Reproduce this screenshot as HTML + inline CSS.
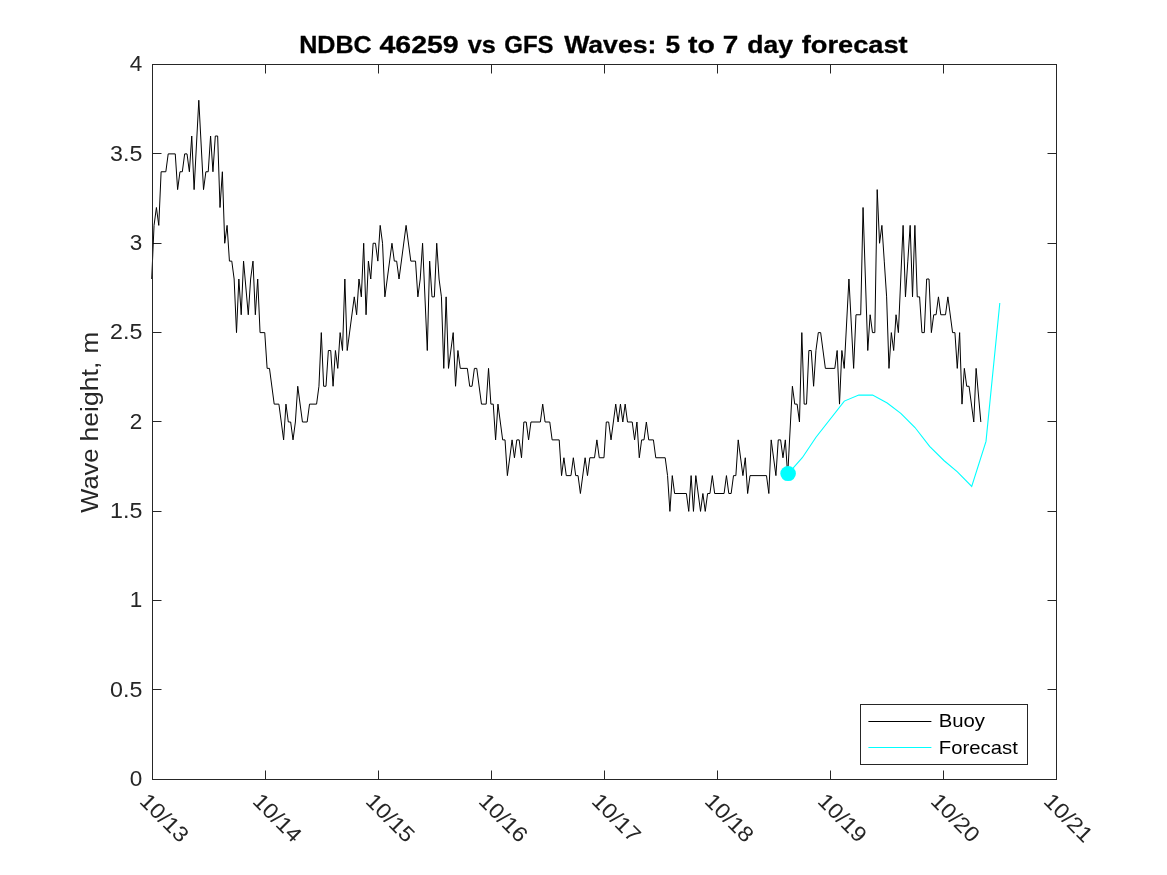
<!DOCTYPE html><html><head><meta charset="utf-8"><style>html,body{margin:0;padding:0;background:#fff;}svg{display:block;will-change:transform;}text{font-family:"Liberation Sans",sans-serif;}</style></head><body>
<svg width="1167" height="875" viewBox="0 0 1167 875">
<rect x="0" y="0" width="1167" height="875" fill="#fff"/>
<path d="M152.5 779.5h9M1056.5 779.5h-9M152.5 689.5h9M1056.5 689.5h-9M152.5 600.5h9M1056.5 600.5h-9M152.5 511.5h9M1056.5 511.5h-9M152.5 421.5h9M1056.5 421.5h-9M152.5 332.5h9M1056.5 332.5h-9M152.5 243.5h9M1056.5 243.5h-9M152.5 153.5h9M1056.5 153.5h-9M152.5 64.5h9M1056.5 64.5h-9M152.5 779.5v-9M152.5 64.5v9M265.5 779.5v-9M265.5 64.5v9M378.5 779.5v-9M378.5 64.5v9M491.5 779.5v-9M491.5 64.5v9M604.5 779.5v-9M604.5 64.5v9M717.5 779.5v-9M717.5 64.5v9M830.5 779.5v-9M830.5 64.5v9M943.5 779.5v-9M943.5 64.5v9M1056.5 779.5v-9M1056.5 64.5v9" stroke="#262626" stroke-width="1" fill="none"/>
<polyline points="151.70,279.00 154.06,225.38 156.41,207.50 158.77,225.38 161.12,171.75 165.83,171.75 168.19,153.88 175.25,153.88 177.61,189.62 179.97,171.75 182.32,171.75 184.68,153.88 187.03,153.88 189.39,171.75 191.74,136.00 194.10,189.62 198.81,100.25 203.52,189.62 205.88,171.75 208.23,171.75 210.59,136.00 212.94,171.75 215.30,136.00 217.65,136.00 220.01,207.50 222.37,171.75 224.72,243.25 227.08,225.38 229.43,261.12 231.79,261.12 234.14,279.00 236.50,332.62 238.85,279.00 241.21,314.75 243.56,261.12 248.28,314.75 250.63,279.00 252.99,261.12 255.34,314.75 257.70,279.00 260.05,332.62 264.76,332.62 267.12,368.38 269.48,368.38 274.19,404.12 278.90,404.12 281.25,422.00 283.61,439.88 285.96,404.12 288.32,422.00 290.67,422.00 293.03,439.88 295.39,422.00 297.74,386.25 302.45,422.00 307.16,422.00 309.52,404.12 316.59,404.12 318.94,386.25 321.30,332.62 323.65,386.25 326.01,386.25 328.36,350.50 330.72,350.50 333.07,386.25 335.43,350.50 337.78,368.38 340.14,332.62 342.50,350.50 344.85,279.00 347.21,350.50 354.27,296.87 356.63,314.75 358.98,279.00 361.34,296.87 363.69,243.25 366.05,314.75 368.41,261.12 370.76,279.00 373.12,243.25 375.47,243.25 377.83,261.12 380.18,225.38 382.54,243.25 384.89,296.87 391.96,243.25 394.32,261.12 396.67,261.12 399.03,279.00 406.09,225.38 410.81,261.12 415.52,261.12 417.87,296.87 420.23,279.00 422.58,243.25 427.29,350.50 429.65,261.12 432.00,296.87 434.36,296.87 436.72,243.25 439.07,279.00 441.43,296.87 443.78,368.38 446.14,296.87 448.49,368.38 453.20,332.62 455.56,386.25 457.92,350.50 460.27,368.38 467.34,368.38 469.69,386.25 472.05,386.25 474.40,368.38 476.76,368.38 481.47,404.12 486.18,404.12 488.54,368.38 490.89,404.12 493.25,404.12 495.60,439.88 497.96,404.12 502.67,439.88 505.03,439.88 507.38,475.62 512.09,439.88 514.45,457.75 516.80,439.88 519.16,439.88 521.51,457.75 523.87,422.00 526.22,422.00 528.58,439.88 530.94,422.00 540.36,422.00 542.71,404.12 545.07,422.00 549.78,422.00 552.13,439.88 559.20,439.88 561.56,475.62 563.91,457.75 566.27,475.62 570.98,475.62 573.33,457.75 575.69,475.62 578.05,475.62 580.40,493.50 585.11,457.75 587.47,475.62 589.82,457.75 594.53,457.75 596.89,439.88 599.25,457.75 603.96,457.75 606.31,422.00 608.67,422.00 611.02,439.88 615.73,404.12 618.09,422.00 620.44,404.12 622.80,422.00 625.16,404.12 627.51,422.00 632.22,422.00 634.58,439.88 636.93,422.00 639.29,457.75 641.64,439.88 644.00,439.88 646.36,422.00 648.71,439.88 653.42,439.88 655.78,457.75 665.20,457.75 667.55,475.62 669.91,511.38 672.27,475.62 674.62,493.50 686.40,493.50 688.75,511.38 691.11,475.62 693.46,511.38 695.82,475.62 700.53,511.38 702.89,493.50 705.24,511.38 707.60,493.50 709.95,493.50 712.31,475.62 714.66,493.50 724.09,493.50 726.44,475.62 728.80,493.50 731.15,493.50 733.51,475.62 735.86,475.62 738.22,439.88 742.93,475.62 745.29,457.75 747.64,493.50 750.00,475.62 766.49,475.62 768.84,493.50 771.20,439.88 775.91,475.62 778.26,439.88 780.62,439.88 782.97,457.75 785.33,439.88 787.68,475.62 792.40,386.25 794.75,404.12 797.11,404.12 799.46,422.00 801.82,332.62 804.17,404.12 806.53,404.12 808.88,350.50 811.24,350.50 813.60,386.25 815.95,350.50 818.31,332.62 820.66,332.62 825.37,368.38 834.80,368.38 837.15,350.50 839.51,404.12 841.86,350.50 844.22,368.38 848.93,279.00 853.64,368.38 855.99,314.75 860.71,314.75 863.06,207.50 867.77,350.50 870.13,314.75 872.48,332.62 874.84,332.62 877.19,189.62 879.55,243.25 881.90,225.38 884.26,261.12 886.62,296.87 888.97,368.38 891.33,332.62 893.68,350.50 896.04,314.75 898.39,332.62 903.10,225.38 905.46,296.87 907.82,261.12 910.17,225.38 912.53,296.87 914.88,225.38 917.24,296.87 919.59,296.87 921.95,332.62 924.30,332.62 926.66,279.00 929.02,279.00 931.37,332.62 933.73,314.75 936.08,314.75 938.44,296.87 940.79,314.75 945.50,314.75 947.86,296.87 952.57,332.62 954.93,332.62 957.28,368.38 959.64,332.62 961.99,404.12 964.35,368.38 966.70,386.25 969.06,386.25 973.77,422.00 976.12,368.38 980.84,422.00" stroke="#000" stroke-width="1" fill="none" stroke-linejoin="miter"/>
<polyline points="788.0,473.8 802.3,457.7 816.0,437.2 844.3,401.1 858.8,395.1 872.6,395.1 887.2,403.0 900.8,413.4 915.0,427.5 929.6,446.4 943.9,460.5 957.4,471.8 971.7,486.4 986.0,441.4 999.8,303.0" stroke="#00ffff" stroke-width="1.1" fill="none"/>
<ellipse cx="788.1" cy="473.6" rx="7.8" ry="7.5" fill="#00ffff"/>
<rect x="152.5" y="64.5" width="904" height="715" stroke="#262626" stroke-width="1" fill="none"/>
<text x="142.3" y="786.1" font-size="22.5" fill="#262626" text-anchor="end">0</text>
<text x="142.3" y="696.7" font-size="22.5" fill="#262626" text-anchor="end" textLength="32.3" lengthAdjust="spacingAndGlyphs">0.5</text>
<text x="142.3" y="607.4" font-size="22.5" fill="#262626" text-anchor="end">1</text>
<text x="142.3" y="518.0" font-size="22.5" fill="#262626" text-anchor="end" textLength="32.3" lengthAdjust="spacingAndGlyphs">1.5</text>
<text x="142.3" y="428.6" font-size="22.5" fill="#262626" text-anchor="end">2</text>
<text x="142.3" y="339.2" font-size="22.5" fill="#262626" text-anchor="end" textLength="32.3" lengthAdjust="spacingAndGlyphs">2.5</text>
<text x="142.3" y="249.8" font-size="22.5" fill="#262626" text-anchor="end">3</text>
<text x="142.3" y="160.5" font-size="22.5" fill="#262626" text-anchor="end" textLength="32.3" lengthAdjust="spacingAndGlyphs">3.5</text>
<text x="142.3" y="71.1" font-size="22.5" fill="#262626" text-anchor="end">4</text>
<text transform="translate(138.5,802.3) rotate(45)" font-size="21.5" fill="#262626" x="0" y="0" textLength="58.7" lengthAdjust="spacingAndGlyphs">10/13</text>
<text transform="translate(251.5,802.3) rotate(45)" font-size="21.5" fill="#262626" x="0" y="0" textLength="58.7" lengthAdjust="spacingAndGlyphs">10/14</text>
<text transform="translate(364.5,802.3) rotate(45)" font-size="21.5" fill="#262626" x="0" y="0" textLength="58.7" lengthAdjust="spacingAndGlyphs">10/15</text>
<text transform="translate(477.5,802.3) rotate(45)" font-size="21.5" fill="#262626" x="0" y="0" textLength="58.7" lengthAdjust="spacingAndGlyphs">10/16</text>
<text transform="translate(590.5,802.3) rotate(45)" font-size="21.5" fill="#262626" x="0" y="0" textLength="58.7" lengthAdjust="spacingAndGlyphs">10/17</text>
<text transform="translate(703.5,802.3) rotate(45)" font-size="21.5" fill="#262626" x="0" y="0" textLength="58.7" lengthAdjust="spacingAndGlyphs">10/18</text>
<text transform="translate(816.5,802.3) rotate(45)" font-size="21.5" fill="#262626" x="0" y="0" textLength="58.7" lengthAdjust="spacingAndGlyphs">10/19</text>
<text transform="translate(929.5,802.3) rotate(45)" font-size="21.5" fill="#262626" x="0" y="0" textLength="58.7" lengthAdjust="spacingAndGlyphs">10/20</text>
<text transform="translate(1042.5,802.3) rotate(45)" font-size="21.5" fill="#262626" x="0" y="0" textLength="58.7" lengthAdjust="spacingAndGlyphs">10/21</text>
<g font-size="23.6" font-weight="bold" fill="#000" stroke="#000" stroke-width="0.3"><text x="299.17" y="52.9" textLength="72.45" lengthAdjust="spacingAndGlyphs">NDBC</text><text x="379.52" y="52.9" textLength="79.17" lengthAdjust="spacingAndGlyphs">46259</text><text x="467.65" y="52.9" textLength="28.04" lengthAdjust="spacingAndGlyphs">vs</text><text x="504.27" y="52.9" textLength="49.31" lengthAdjust="spacingAndGlyphs">GFS</text><text x="564.22" y="52.9" textLength="92.09" lengthAdjust="spacingAndGlyphs">Waves:</text><text x="665.53" y="52.9" textLength="14.66" lengthAdjust="spacingAndGlyphs">5</text><text x="688.11" y="52.9" textLength="26.85" lengthAdjust="spacingAndGlyphs">to</text><text x="722.75" y="52.9" textLength="15.53" lengthAdjust="spacingAndGlyphs">7</text><text x="747.26" y="52.9" textLength="45.72" lengthAdjust="spacingAndGlyphs">day</text><text x="801.79" y="52.9" textLength="105.88" lengthAdjust="spacingAndGlyphs">forecast</text></g>
<g font-size="23" fill="#262626"><text transform="translate(97.6,512.73) rotate(-90)" textLength="64.25" lengthAdjust="spacingAndGlyphs">Wave</text><text transform="translate(97.6,441.43) rotate(-90)" textLength="79.71" lengthAdjust="spacingAndGlyphs">height,</text><text transform="translate(97.6,353.51) rotate(-90)" textLength="21.63" lengthAdjust="spacingAndGlyphs">m</text></g>
<rect x="860.5" y="704.5" width="167" height="60" fill="#fff" stroke="#262626" stroke-width="1"/>
<path d="M868.4 721.5H931.4" stroke="#000" stroke-width="1"/>
<path d="M868.4 747.5H931.4" stroke="#00ffff" stroke-width="1"/>
<text x="938.7" y="726.7" font-size="19" fill="#000" textLength="46.3" lengthAdjust="spacingAndGlyphs">Buoy</text>
<text x="938.8" y="753.6" font-size="19" fill="#000" textLength="79" lengthAdjust="spacingAndGlyphs">Forecast</text>
</svg></body></html>
